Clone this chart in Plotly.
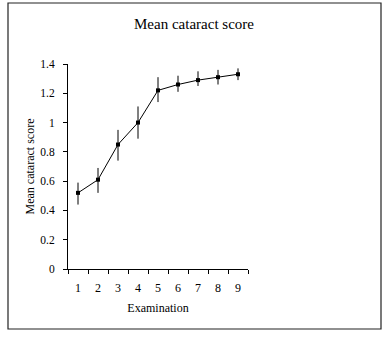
import plotly.graph_objects as go

examinations = ["1", "2", "3", "4", "5", "6", "7", "8", "9"]
mean_score = [0.52, 0.61, 0.85, 1.00, 1.22, 1.26, 1.29, 1.31, 1.33]
err_plus = [0.07, 0.08, 0.10, 0.11, 0.09, 0.06, 0.06, 0.05, 0.04]
err_minus = [0.08, 0.09, 0.11, 0.11, 0.08, 0.05, 0.04, 0.05, 0.04]
y_ticks = [0, 0.2, 0.4, 0.6, 0.8, 1, 1.2, 1.4]
y_tick_labels = ["0", "0.2", "0.4", "0.6", "0.8", "1", "1.2", "1.4"]

W, H = 389, 348
L, R, T, B = 68, 248, 64, 269

fig = go.Figure(go.Scatter(
    x=examinations, y=mean_score,
    mode="lines+markers",
    line=dict(color="black", width=1),
    marker=dict(symbol="square", size=4, color="black"),
    error_y=dict(type="data", symmetric=False, array=err_plus, arrayminus=err_minus,
                 color="black", thickness=1, width=0),
    showlegend=False,
))

pw, ph = R - L, B - T

fig.update_layout(
    width=W, height=H,
    margin=dict(l=L, r=W - R, t=T, b=H - B, pad=0),
    paper_bgcolor="white", plot_bgcolor="white",
    font=dict(family="Liberation Serif", size=11, color="black"),
    title=dict(text="Mean cataract score", x=194 / W, xanchor="center",
               y=1 - 24 / H, yanchor="middle", yref="container",
               font=dict(family="Liberation Serif", size=15, color="black")),
    xaxis=dict(type="category", tickson="boundaries", ticks="outside", ticklen=4,
               tickcolor="black", showline=True, linecolor="black", linewidth=1,
               showgrid=False, zeroline=False, range=[-0.5, 8.5],
               ticklabelstandoff=8,
               title=dict(text="Examination", standoff=9, font=dict(size=12, family="Liberation Serif")),
               tickfont=dict(size=12, family="Liberation Serif")),
    yaxis=dict(range=[0, 1.4], tickvals=y_ticks, ticktext=y_tick_labels,
               ticks="outside", ticklen=4, tickcolor="black",
               showline=True, linecolor="black", linewidth=1,
               showgrid=False, zeroline=False,
               ticklabelstandoff=6,
               title=dict(text="Mean cataract score", standoff=3, font=dict(size=12, family="Liberation Serif")),
               tickfont=dict(size=11.5, family="Liberation Serif")),
    shapes=[dict(type="rect", xref="paper", yref="paper",
                 x0=(8 - L) / pw, x1=(381 - L) / pw,
                 y0=(B - 329) / ph, y1=(B - 3) / ph,
                 line=dict(color="#222222", width=1.2))],
)

fig.write_html("out.html")
